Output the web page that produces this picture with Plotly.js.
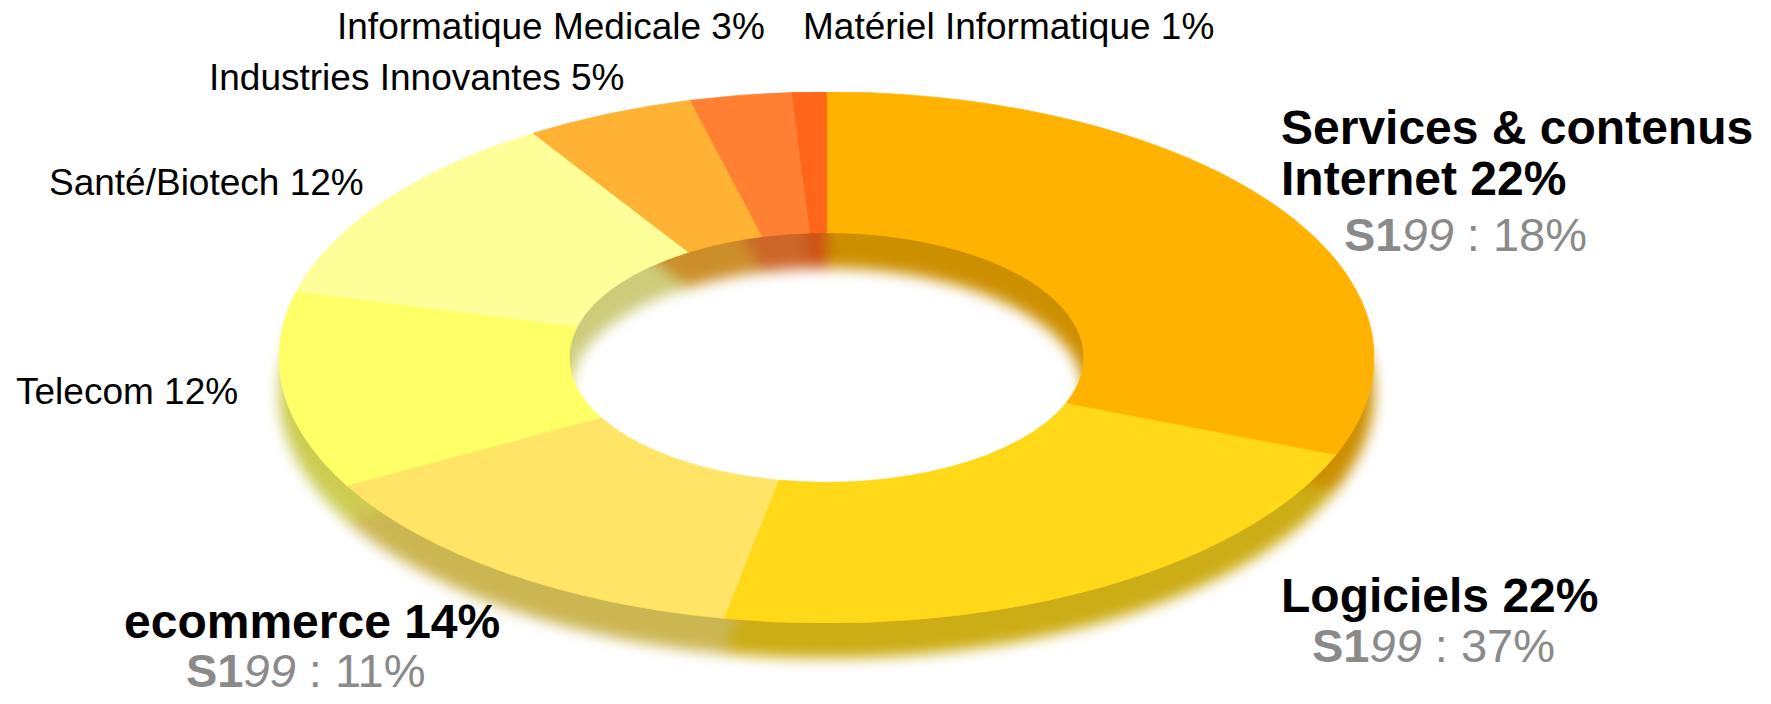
<!DOCTYPE html>
<html>
<head>
<meta charset="utf-8">
<script src="https://cdn.plot.ly/plotly-3.0.1.min.js"></script>
<style>
html,body{margin:0;padding:0;background:#ffffff;width:1771px;height:704px;overflow:hidden;}
#stage{position:relative;width:1771px;height:704px;overflow:hidden;}
.ring{position:absolute;width:1095px;height:1095px;left:278.5px;transform-origin:50% 50%;transform:scaleY(0.485);}
#ringMain{top:-190.5px;}
#ringShadow{top:-155.5px;}
#shadowWrap{position:absolute;left:0;top:0;width:1771px;height:704px;filter:blur(7px);}
#labels{position:absolute;left:0;top:0;width:1771px;height:704px;}
</style>
</head>
<body>
<div id="stage">
  <div id="shadowWrap"><div id="ringShadow" class="ring"></div></div>
  <div id="ringMain" class="ring"></div>
  <div id="labels"></div>
</div>
<script>
// ---- data ----
const categories = ['Services & contenus Internet', 'Logiciels', 'ecommerce', 'Telecom',
                    'Santé/Biotech', 'Industries Innovantes', 'Informatique Medicale', 'Matériel Informatique'];
// slice sizes as drawn (measured from the slice angles)
const sliceShares = [31, 22, 14, 12, 12, 5, 3, 1];
// percentages printed in the labels
const labelPct = [22, 22, 14, 12, 12, 5, 3, 1];
// first-half 1999 comparison printed under the main labels
const s199Pct = [18, 37, 11, null, null, null, null, null];

// ---- styles ----
const sliceColors = ['#FFB300', '#FFD81A', '#FFE466', '#FFFF66', '#FFFF99', '#FFB233', '#FF8033', '#FF661A'];
function darken(hex, f) {
  const n = parseInt(hex.slice(1), 16);
  const r = Math.round(((n >> 16) & 255) * f), g = Math.round(((n >> 8) & 255) * f), b = Math.round((n & 255) * f);
  return 'rgb(' + r + ',' + g + ',' + b + ')';
}
const shadowColors = sliceColors.map(c => darken(c, 0.8));

function pieTrace(colors) {
  return {
    type: 'pie', values: sliceShares, labels: categories, sort: false,
    direction: 'clockwise', rotation: 0, hole: 0.47,
    marker: {colors: colors, line: {color: colors, width: 1}},
    textinfo: 'none', hoverinfo: 'skip', showlegend: false,
    domain: {x: [0, 1], y: [0, 1]}
  };
}
const ringLayout = {
  width: 1095, height: 1095, margin: {l: 0, r: 0, t: 0, b: 0},
  paper_bgcolor: 'rgba(0,0,0,0)', plot_bgcolor: 'rgba(0,0,0,0)', showlegend: false
};
const cfg = {staticPlot: true, displayModeBar: false};

Plotly.newPlot('ringShadow', [pieTrace(shadowColors)], ringLayout, cfg);
Plotly.newPlot('ringMain', [pieTrace(sliceColors)], ringLayout, cfg);

// ---- labels ----
const W = 1771, H = 704;
const FONT = 'Liberation Sans, Arial, sans-serif';
function ann(text, px, py, size, color) {
  return {
    text: text, xref: 'paper', yref: 'paper', x: px / W, y: 1 - py / H,
    xanchor: 'left', yanchor: 'middle', showarrow: false, align: 'left',
    font: {family: FONT, size: size, color: color || '#000000'}
  };
}
function s199(p) { return '<b>S1</b><i>99</i> : ' + p + '%'; }
const name = i => categories[i];
const pct = i => labelPct[i] + '%';

const annotations = [
  ann(name(6) + ' ' + pct(6), 335, 26.5, 37),
  ann(name(7) + ' ' + pct(7), 801, 26.5, 37),
  ann(name(5) + ' ' + pct(5), 207, 77.5, 37),
  ann(name(4) + ' ' + pct(4), 47, 182.5, 37),
  ann(name(3) + ' ' + pct(3), 14, 392, 37),
  ann('<b>Services &amp; contenus</b>', 1279, 127.5, 48),
  ann('<b>Internet ' + pct(0) + '</b>', 1279, 178.5, 48),
  ann(s199(s199Pct[0]), 1342, 235, 47, '#8a8a8a'),
  ann('<b>' + name(1) + ' ' + pct(1) + '</b>', 1279, 595, 48),
  ann(s199(s199Pct[1]), 1310, 645, 47, '#8a8a8a'),
  ann('<b>' + name(2) + ' ' + pct(2) + '</b>', 122, 621, 48),
  ann(s199(s199Pct[2]), 184, 670, 47, '#8a8a8a')
];

Plotly.newPlot('labels', [], {
  width: W, height: H, margin: {l: 0, r: 0, t: 0, b: 0},
  paper_bgcolor: 'rgba(0,0,0,0)', plot_bgcolor: 'rgba(0,0,0,0)',
  xaxis: {visible: false}, yaxis: {visible: false},
  annotations: annotations
}, cfg);
</script>
</body>
</html>
